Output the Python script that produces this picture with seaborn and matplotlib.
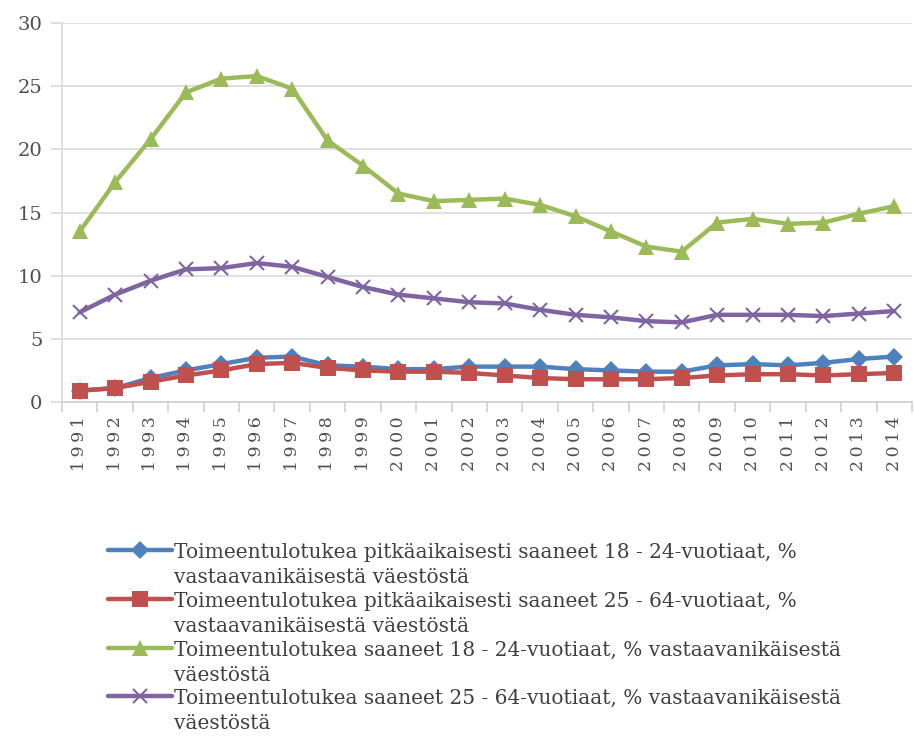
import matplotlib
matplotlib.use("Agg")
import matplotlib.pyplot as plt
import seaborn as sns
import pandas as pd

years = [str(y) for y in range(1991, 2015)]
long_18_24 = [0.9, 1.1, 1.9, 2.5, 3.0, 3.5, 3.6, 2.9, 2.8, 2.6, 2.6, 2.8,
              2.8, 2.8, 2.6, 2.5, 2.4, 2.4, 2.9, 3.0, 2.9, 3.1, 3.4, 3.6]
long_25_64 = [0.9, 1.1, 1.6, 2.1, 2.5, 3.0, 3.1, 2.7, 2.5, 2.4, 2.4, 2.3,
              2.1, 1.9, 1.8, 1.8, 1.8, 1.9, 2.1, 2.2, 2.2, 2.1, 2.2, 2.3]
all_18_24 = [13.5, 17.4, 20.8, 24.5, 25.6, 25.8, 24.8, 20.7, 18.7, 16.5, 15.9, 16.0,
             16.1, 15.6, 14.7, 13.5, 12.3, 11.9, 14.2, 14.5, 14.1, 14.2, 14.9, 15.5]
all_25_64 = [7.1, 8.5, 9.6, 10.5, 10.6, 11.0, 10.7, 9.9, 9.1, 8.5, 8.2, 7.9,
             7.8, 7.3, 6.9, 6.7, 6.4, 6.3, 6.9, 6.9, 6.9, 6.8, 7.0, 7.2]
labels = [
    "Toimeentulotukea pitkäaikaisesti saaneet 18 - 24-vuotiaat, %\nvastaavanikäisestä väestöstä",
    "Toimeentulotukea pitkäaikaisesti saaneet 25 - 64-vuotiaat, %\nvastaavanikäisestä väestöstä",
    "Toimeentulotukea saaneet 18 - 24-vuotiaat, % vastaavanikäisestä\nväestöstä",
    "Toimeentulotukea saaneet 25 - 64-vuotiaat, % vastaavanikäisestä\nväestöstä",
]
yticks = [0, 5, 10, 15, 20, 25, 30]

sns.set_theme(style="white")
plt.rcParams['font.family'] = ['DejaVu Serif']

fig = plt.figure(figsize=(9.14, 7.40), dpi=100)
ax = fig.add_axes([62/914, 1-402/740, (912-62)/914, (402-23)/740])

idx = list(range(len(years)))
series = [long_18_24, long_25_64, all_18_24, all_25_64]
colors = ["#4F81BD", "#C0504D", "#9BBB59", "#8064A2"]
markers = ["D", "s", "^", "x"]
msizes = [9.5, 12, 12, 10]
mews = [0, 0, 0, 1.5]
for vals, lab, c, m, ms, mew in zip(series, labels, colors, markers, msizes, mews):
    sns.lineplot(x=idx, y=vals, ax=ax, color=c, lw=3.2, marker=m, markersize=ms,
                 markeredgewidth=mew, markeredgecolor=c, markerfacecolor=c,
                 label=lab, legend=False)

ax.set_xlim(-0.5, len(years) - 0.5)
ax.set_ylim(0, 30)
ax.set_yticks(yticks)
ax.set_yticklabels([str(t) for t in yticks], fontsize=14, color="#505050")
ax.set_xticks(idx)
ax.set_xticklabels(["\u2009".join(y) for y in years], rotation=90, fontsize=12.5,
                   color="#505050")
ax.set_xticks([i - 0.5 for i in range(len(years) + 1)], minor=True)
ax.tick_params(axis='x', which='major', length=0, pad=10)
ax.tick_params(axis='x', which='minor', length=7, color="#d0d0d0", width=1.2, bottom=True)
ax.tick_params(axis='y', length=8, color="#d9d9d9", width=1.2, left=True, pad=6)
ax.grid(axis='y', color="#d9d9d9", lw=1.2)
ax.set_axisbelow(True)
for s in ["top", "right"]:
    ax.spines[s].set_visible(False)
ax.spines["left"].set_color("#d9d9d9")
ax.spines["bottom"].set_color("#d0d0d0")
ax.spines["left"].set_linewidth(1.2)
ax.spines["bottom"].set_linewidth(1.2)

handles, labs = ax.get_legend_handles_labels()
leg = fig.legend(handles, labs, loc="upper left", bbox_to_anchor=(108/914, 1-543/740),
                 frameon=False, fontsize=14.5, handlelength=3.2, handletextpad=0.1,
                 labelspacing=0.22, borderaxespad=0, borderpad=0)
for t in leg.get_texts():
    t.set_color("#404040")
    t.set_linespacing(1.42)
try:
    for col in leg._legend_handle_box.get_children():
        for row in col.get_children():
            row.align = "top"
except Exception:
    pass

fig.savefig("out.png", dpi=100)
